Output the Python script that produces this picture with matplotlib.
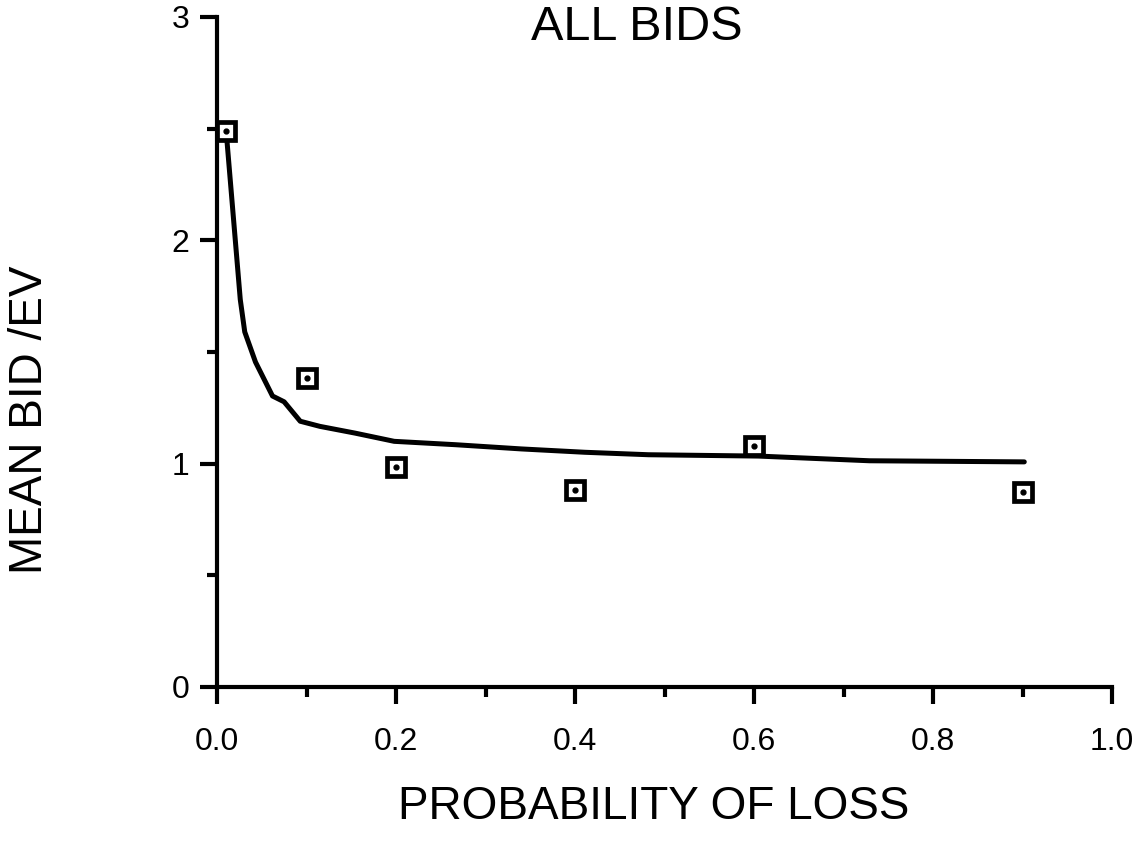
import numpy as np
import matplotlib
matplotlib.use('Agg')
import matplotlib.pyplot as plt
from matplotlib.ticker import MultipleLocator

plt.rcParams['font.family'] = ['Liberation Sans', 'DejaVu Sans']

# observed mean bid / expected value at each loss probability
prob = [0.01, 0.1, 0.2, 0.4, 0.6, 0.9]
mean_bid = [2.49, 1.385, 0.983, 0.88, 1.079, 0.874]

# fitted curve
curve_x = [0.01, 0.026, 0.031, 0.043, 0.062, 0.075, 0.093, 0.115, 0.154,
           0.198, 0.266, 0.34, 0.411, 0.482, 0.605, 0.729, 0.902]
curve_y = [2.5, 1.735, 1.59, 1.455, 1.303, 1.277, 1.19, 1.167, 1.137,
           1.10, 1.085, 1.066, 1.051, 1.04, 1.034, 1.013, 1.008]

fig = plt.figure(figsize=(11.41, 8.44), dpi=100)
ax = fig.add_axes([217 / 1141, 1 - 687 / 844, (1112 - 217) / 1141, (687 - 17) / 844])

ax.plot(curve_x, curve_y, color='black', lw=3.6, solid_capstyle='round', zorder=2)
ax.plot(prob, mean_bid, ls='none', marker='s', ms=13, mfc='white', mec='black',
        mew=3.4, zorder=3)
ax.plot(prob, mean_bid, ls='none', marker='o', ms=3.5, color='black', zorder=4)

ax.set_xlim(0, 1.0)
ax.set_ylim(0, 3)
ax.spines['top'].set_visible(False)
ax.spines['right'].set_visible(False)
for s in ('left', 'bottom'):
    ax.spines[s].set_linewidth(3)

ax.xaxis.set_minor_locator(MultipleLocator(0.1))
ax.yaxis.set_minor_locator(MultipleLocator(0.5))
ax.set_xticks([0, 0.2, 0.4, 0.6, 0.8, 1.0])
ax.set_xticklabels(['0.0', '0.2', '0.4', '0.6', '0.8', '1.0'])
ax.set_yticks([0, 1, 2, 3])
ax.set_yticklabels(['0', '1', '2', '3'])

ax.tick_params(which='major', direction='out', length=12, width=3, labelsize=23)
ax.tick_params(which='minor', direction='out', length=7, width=3)
ax.tick_params(axis='x', which='major', pad=17)
ax.tick_params(axis='y', which='major', pad=8)
for line in ax.get_lines():
    line.set_clip_on(False)

fig.text(637 / 1141, 1 - 28 / 844, 'ALL BIDS', fontsize=35, ha='center', va='center')
fig.text(654 / 1141, 1 - 807 / 844, 'PROBABILITY OF LOSS', fontsize=33,
         ha='center', va='center')
fig.text(30 / 1141, 1 - 420 / 844, 'MEAN BID /EV', fontsize=33, rotation=90,
         ha='center', va='center')

fig.savefig('out.png', dpi=100)
